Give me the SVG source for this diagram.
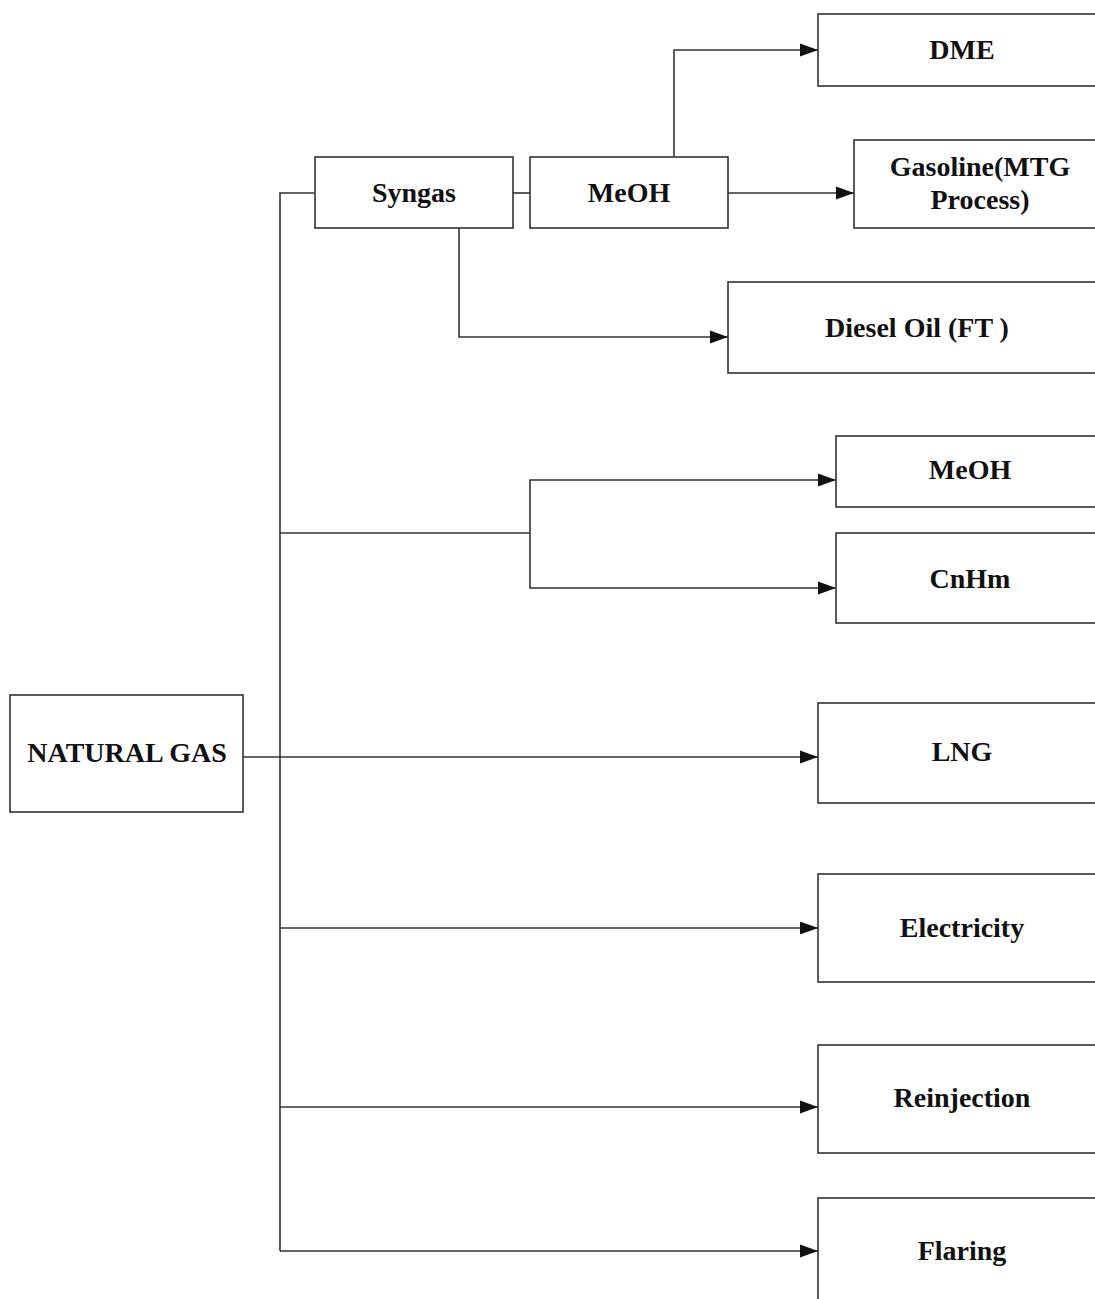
<svg xmlns="http://www.w3.org/2000/svg" width="1095" height="1299" viewBox="0 0 1095 1299">
<defs>
<marker id="arr" markerUnits="userSpaceOnUse" markerWidth="18" markerHeight="14" refX="18" refY="7" orient="auto">
<path d="M0,0.5 L18,7 L0,13.5 z" fill="#111"/>
</marker>
<style>
.box{fill:#fff;stroke:#333;stroke-width:1.6}
.lbl{font-family:"Liberation Serif","Times New Roman",serif;font-weight:bold;font-size:28px;fill:#111;text-anchor:middle}
.ln{fill:none;stroke:#333;stroke-width:1.6}
.ar{fill:none;stroke:#333;stroke-width:1.6;marker-end:url(#arr)}
</style>
</defs>
<rect width="1095" height="1299" fill="#fff"/>
<g id="connectors">
<path class="ln" d="M315,193 H280 V1251"/>
<path class="ln" d="M513,193 H530"/>
<path class="ar" d="M674,157 V50 H818"/>
<path class="ar" d="M728,193 H854"/>
<path class="ar" d="M459,228 V337 H728"/>
<path class="ln" d="M280,533 H530"/>
<path class="ar" d="M530,533 V480 H836"/>
<path class="ar" d="M530,533 V588 H836"/>
<path class="ar" d="M243,757 H818"/>
<path class="ar" d="M280,928 H818"/>
<path class="ar" d="M280,1107 H818"/>
<path class="ar" d="M280,1251 H818"/>
</g>
<g id="natural-gas"><rect class="box" x="10" y="695" width="233" height="117"/><text class="lbl" x="127" y="762">NATURAL GAS</text></g>
<g id="syngas"><rect class="box" x="315" y="157" width="198" height="71"/><text class="lbl" x="414" y="202">Syngas</text></g>
<g id="meoh-1"><rect class="box" x="530" y="157" width="198" height="71"/><text class="lbl" x="629" y="202">MeOH</text></g>
<g id="dme"><rect class="box" x="818" y="14" width="288" height="72"/><text class="lbl" x="962" y="59">DME</text></g>
<g id="gasoline"><rect class="box" x="854" y="140" width="252" height="88"/><text class="lbl" x="980" y="176">Gasoline(MTG</text><text class="lbl" x="980" y="209">Process)</text></g>
<g id="diesel"><rect class="box" x="728" y="282" width="378" height="91"/><text class="lbl" x="917" y="337">Diesel Oil (FT )</text></g>
<g id="meoh-2"><rect class="box" x="836" y="436" width="270" height="71"/><text class="lbl" x="970" y="479">MeOH</text></g>
<g id="cnhm"><rect class="box" x="836" y="533" width="270" height="90"/><text class="lbl" x="970" y="588">CnHm</text></g>
<g id="lng"><rect class="box" x="818" y="703" width="288" height="100"/><text class="lbl" x="962" y="761">LNG</text></g>
<g id="electricity"><rect class="box" x="818" y="874" width="288" height="108"/><text class="lbl" x="962" y="937">Electricity</text></g>
<g id="reinjection"><rect class="box" x="818" y="1045" width="288" height="108"/><text class="lbl" x="962" y="1107">Reinjection</text></g>
<g id="flaring"><rect class="box" x="818" y="1198" width="288" height="120"/><text class="lbl" x="962" y="1260">Flaring</text></g>
</svg>
